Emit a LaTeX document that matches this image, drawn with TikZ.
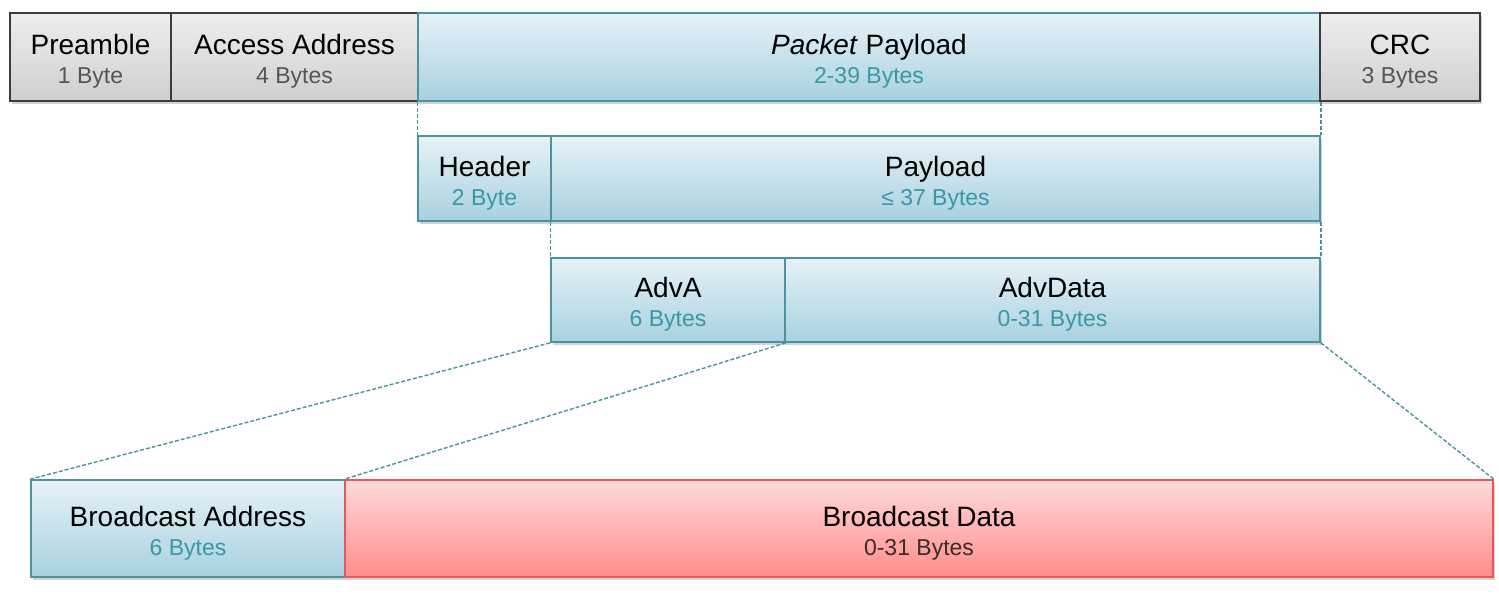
\documentclass[tikz,border=0pt]{standalone}
\usepackage{fontspec}
\setmainfont{Liberation Sans}
\usetikzlibrary{shadows}

\definecolor{grayline}{HTML}{3C3C3C}
\definecolor{graytop}{HTML}{EEEEEE}
\definecolor{graybot}{HTML}{CFCFCF}
\definecolor{graysub}{HTML}{555555}
\definecolor{blueline}{HTML}{4A939F}
\definecolor{bluetop}{HTML}{E6F2F7}
\definecolor{bluebot}{HTML}{A8D1DF}
\definecolor{bluesub}{HTML}{3A97A6}
\definecolor{redline}{HTML}{E35A5A}
\definecolor{redtop}{HTML}{FFDADA}
\definecolor{redbot}{HTML}{FF8C8C}
\definecolor{redsub}{HTML}{3B2B2B}

\newcommand{\fieldtxt}[3]{\rule{0pt}{14.5pt}#2\\[-0.5pt]{\fontsize{11.5}{13}\selectfont\color{#1}#3}}

\begin{document}
\begin{tikzpicture}[x=0.5pt,y=-0.5pt]
  \useasboundingbox (0,0) rectangle (1499,596);
  \tikzstyle{Field}=[draw, line width=0.8pt, inner sep=0pt, align=center,
    font=\fontsize{14}{15}\selectfont,
    drop shadow={opacity=0.35, shadow xshift=1pt, shadow yshift=-1.5pt}]
  \tikzstyle{FieldGray}=[Field, draw=grayline, top color=graytop, bottom color=graybot]
  \tikzstyle{FieldBlue}=[Field, draw=blueline, top color=bluetop, bottom color=bluebot]
  \tikzstyle{FieldRed}=[Field, draw=redline, top color=redtop, bottom color=redbot]
  \tikzstyle{LinkStyle}=[draw=blueline, line width=0.7pt, dash pattern=on 2pt off 1pt]

  % link layer packet
  \node[FieldGray, minimum width=80.5pt, minimum height=44pt] (PRE) at (90.5,57)
    {\fieldtxt{graysub}{Preamble}{1 Byte}};
  \node[FieldGray, minimum width=123.5pt, minimum height=44pt] (AA) at (294.5,57)
    {\fieldtxt{graysub}{Access Address}{4 Bytes}};
  \node[FieldBlue, minimum width=451pt, minimum height=44pt] (PP) at (869,57)
    {\fieldtxt{bluesub}{\emph{Packet} Payload}{2-39 Bytes}};
  \node[FieldGray, minimum width=80pt, minimum height=44pt] (CRC) at (1400,57)
    {\fieldtxt{graysub}{CRC}{3 Bytes}};

  % PDU
  \node[FieldBlue, minimum width=66.5pt, minimum height=42.5pt] (HDR) at (484.5,178.5)
    {\fieldtxt{bluesub}{Header}{2 Byte}};
  \node[FieldBlue, minimum width=384.5pt, minimum height=42.5pt] (PL) at (935.5,178.5)
    {\fieldtxt{bluesub}{Payload}{≤ 37 Bytes}};

  % advertising payload
  \node[FieldBlue, minimum width=117pt, minimum height=42pt] (ADVA) at (668,300)
    {\fieldtxt{bluesub}{AdvA}{6 Bytes}};
  \node[FieldBlue, minimum width=267.5pt, minimum height=42pt] (ADVD) at (1052.5,300)
    {\fieldtxt{bluesub}{AdvData}{0-31 Bytes}};

  % broadcast
  \node[FieldBlue, minimum width=157pt, minimum height=48.5pt] (BCA) at (188,528.5)
    {\fieldtxt{bluesub}{Broadcast Address}{6 Bytes}};
  \node[FieldRed, minimum width=574pt, minimum height=48.5pt] (BCD) at (919,528.5)
    {\fieldtxt{redsub}{Broadcast Data}{0-31 Bytes}};

  \path[LinkStyle] (PP.south west) -- (HDR.north west);
  \path[LinkStyle] (PP.south east) -- (PL.north east);
  \path[LinkStyle] (PL.south west) -- (ADVA.north west);
  \path[LinkStyle] (PL.south east) -- (ADVD.north east);
  \path[LinkStyle] (ADVA.south west) -- (BCA.north west);
  \path[LinkStyle] (ADVA.south east) -- (BCD.north west);
  \path[LinkStyle] (ADVD.south east) -- (BCD.north east);
\end{tikzpicture}
\end{document}
